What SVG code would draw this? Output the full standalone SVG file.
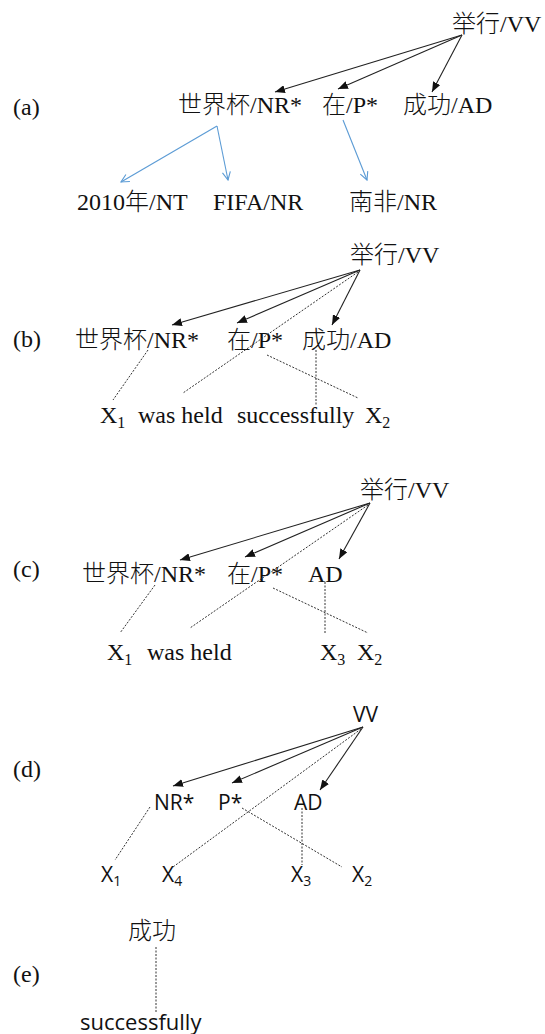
<svg xmlns="http://www.w3.org/2000/svg" width="545" height="1034" viewBox="0 0 545 1034">
<style>
.t{font-family:"Liberation Serif","Noto Sans CJK SC",serif;font-size:24px;font-weight:300;fill:#111}
.s{font-family:"Open Sans","Noto Sans CJK SC",sans-serif;font-size:21px;fill:#111}
.sub{font-size:16px}
.ssub{font-size:14px}
.arr{stroke:#222;stroke-width:1.1;fill:none;marker-end:url(#ah)}
.blue{stroke:#5b9bd5;stroke-width:1.1;fill:none;marker-end:url(#bh)}
.dash{stroke:#333;stroke-width:1;fill:none;stroke-dasharray:2,1.5}
</style>
<defs>
<marker id="ah" markerUnits="userSpaceOnUse" markerWidth="10" markerHeight="8" refX="10" refY="4" orient="auto" viewBox="0 0 10 8">
<path d="M0,0 L10,4 L0,8 z" fill="#111"/>
</marker>
<marker id="bh" markerUnits="userSpaceOnUse" markerWidth="10" markerHeight="10" refX="9" refY="5" orient="auto" viewBox="0 0 10 10">
<path d="M1,1 L9,5 L1,9" fill="none" stroke="#5b9bd5" stroke-width="1.1"/>
</marker>
</defs>

<g id="labels">
<text class="t" x="13" y="115">(a)</text>
<text class="t" x="13" y="347">(b)</text>
<text class="t" x="13" y="577">(c)</text>
<text class="t" x="13" y="777">(d)</text>
<text class="t" x="13" y="982">(e)</text>
</g>

<!-- (a) -->
<g id="a-vv"><text class="t" x="452" y="32">举行/VV</text></g>
<g id="a-nr"><text class="t" x="178" y="113">世界杯/NR*</text></g>
<g id="a-p"><text class="t" x="322" y="113">在/P*</text></g>
<g id="a-ad"><text class="t" x="403" y="113">成功/AD</text></g>
<g id="a-nt"><text class="t" x="77" y="210">2010年/NT</text></g>
<g id="a-fifa"><text class="t" x="213" y="210">FIFA/NR</text></g>
<g id="a-nf"><text class="t" x="349" y="210">南非/NR</text></g>

<!-- (b) -->
<g id="b-vv"><text class="t" x="350" y="263">举行/VV</text></g>
<g id="b-nr"><text class="t" x="75" y="348">世界杯/NR*</text></g>
<g id="b-p"><text class="t" x="227" y="348">在/P*</text></g>
<g id="b-ad"><text class="t" x="302" y="348">成功/AD</text></g>
<g id="b-x1"><text class="t" x="100" y="423">X<tspan class="sub" dy="5">1</tspan></text></g>
<g id="b-held"><text class="t" x="138" y="423">was held</text></g>
<g id="b-succ"><text class="t" x="237" y="423">successfully</text></g>
<g id="b-x2"><text class="t" x="365" y="423">X<tspan class="sub" dy="5">2</tspan></text></g>

<!-- (c) -->
<g id="c-vv"><text class="t" x="360" y="498">举行/VV</text></g>
<g id="c-nr"><text class="t" x="82" y="582">世界杯/NR*</text></g>
<g id="c-p"><text class="t" x="227" y="582">在/P*</text></g>
<g id="c-ad"><text class="t" x="308" y="582">AD</text></g>
<g id="c-x1"><text class="t" x="107" y="660">X<tspan class="sub" dy="5">1</tspan></text></g>
<g id="c-held"><text class="t" x="147" y="660">was held</text></g>
<g id="c-x3"><text class="t" x="320" y="660">X<tspan class="sub" dy="5">3</tspan></text></g>
<g id="c-x2"><text class="t" x="357" y="660">X<tspan class="sub" dy="5">2</tspan></text></g>

<!-- (d) -->
<g id="d-vv"><text class="s" x="353" y="722">VV</text></g>
<g id="d-nr"><text class="s" x="154" y="810">NR*</text></g>
<g id="d-p"><text class="s" x="218" y="810">P*</text></g>
<g id="d-ad"><text class="s" x="294" y="810">AD</text></g>
<g id="d-x1"><text class="s" x="101" y="882">X<tspan class="ssub" dy="4">1</tspan></text></g>
<g id="d-x4"><text class="s" x="162" y="882">X<tspan class="ssub" dy="4">4</tspan></text></g>
<g id="d-x3"><text class="s" x="291" y="882">X<tspan class="ssub" dy="4">3</tspan></text></g>
<g id="d-x2"><text class="s" x="352" y="882">X<tspan class="ssub" dy="4">2</tspan></text></g>

<!-- (e) -->
<g id="e-cg"><text class="s" x="128" y="939" style="font-size:24px;font-weight:300">成功</text></g>
<g id="e-succ"><text class="s" x="80" y="1030" style="font-size:22px">successfully</text></g>

<g id="connectors">
<!-- a -->
<line class="arr" x1="462" y1="35" x2="275" y2="92"/>
<line class="arr" x1="462" y1="35" x2="338" y2="89"/>
<line class="arr" x1="462" y1="35" x2="432" y2="92"/>
<line class="blue" x1="217" y1="126" x2="121" y2="182"/>
<line class="blue" x1="217" y1="126" x2="228" y2="180"/>
<line class="blue" x1="343" y1="120" x2="367" y2="180"/>
<!-- b -->
<line class="arr" x1="360" y1="270" x2="172" y2="325"/>
<line class="arr" x1="360" y1="270" x2="237" y2="323"/>
<line class="arr" x1="360" y1="270" x2="332" y2="325"/>
<line class="dash" x1="358" y1="272" x2="183" y2="393"/>
<line class="dash" x1="148" y1="350" x2="113" y2="400"/>
<line class="dash" x1="267" y1="355" x2="358" y2="398"/>
<line class="dash" x1="316" y1="350" x2="316" y2="405"/>
<!-- c -->
<line class="arr" x1="370" y1="503" x2="180" y2="560"/>
<line class="arr" x1="370" y1="503" x2="245" y2="557"/>
<line class="arr" x1="370" y1="503" x2="339" y2="559"/>
<line class="dash" x1="368" y1="505" x2="190" y2="628"/>
<line class="dash" x1="155" y1="585" x2="120" y2="633"/>
<line class="dash" x1="273" y1="588" x2="368" y2="633"/>
<line class="dash" x1="325" y1="582" x2="325" y2="633"/>
<!-- d -->
<line class="arr" x1="363" y1="727" x2="173" y2="786"/>
<line class="arr" x1="363" y1="727" x2="232" y2="783"/>
<line class="arr" x1="363" y1="727" x2="320" y2="790"/>
<line class="dash" x1="361" y1="729" x2="173" y2="867"/>
<line class="dash" x1="150" y1="807" x2="115" y2="860"/>
<line class="dash" x1="242" y1="808" x2="342" y2="867"/>
<line class="dash" x1="302" y1="808" x2="302" y2="865"/>
<!-- e -->
<line class="dash" x1="156" y1="947" x2="156" y2="1013"/>
</g>
</svg>
